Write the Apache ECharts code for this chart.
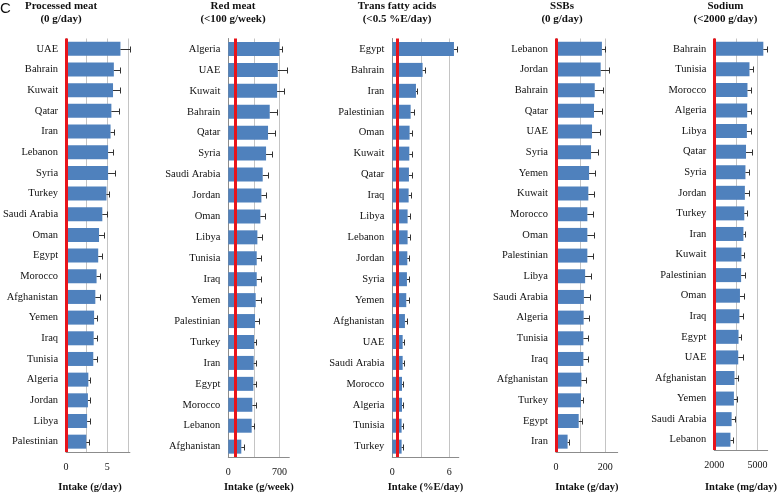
<!DOCTYPE html>
<html><head><meta charset="utf-8">
<script src="https://cdn.jsdelivr.net/npm/echarts@6/dist/echarts.min.js"></script>
<style>html,body{margin:0;padding:0;background:#fff}#c{width:780px;height:498px}</style>
</head><body><div id="c"></div>
<script>
// ---- Processed meat (g/day)
const pmCategories = ['UAE','Bahrain','Kuwait','Qatar','Iran','Lebanon','Syria','Turkey','Saudi Arabia','Oman','Egypt','Morocco','Afghanistan','Yemen','Iraq','Tunisia','Algeria','Jordan','Libya','Palestinian'];
const pmValues = [6.6,5.8,5.7,5.5,5.4,5.1,5.1,4.9,4.4,4.0,3.9,3.7,3.55,3.4,3.35,3.3,2.7,2.65,2.55,2.45];
const pmErrors = [1.2,0.8,0.85,0.9,0.4,0.55,0.8,0.3,0.55,0.65,0.45,0.43,0.6,0.4,0.45,0.4,0.25,0.3,0.35,0.3];
const pmTicks = [0,5];
// ---- Red meat (g/week)
const rmCategories = ['Algeria','UAE','Kuwait','Bahrain','Qatar','Syria','Saudi Arabia','Jordan','Oman','Libya','Tunisia','Iraq','Yemen','Palestinian','Turkey','Iran','Egypt','Morocco','Lebanon','Afghanistan'];
const rmValues = [700,677,668,567,544,517,471,453,439,398,389,389,375,366,352,348,343,329,320,178];
const rmErrors = [40,120,100,100,96,78,69,60,69,60,55,55,69,55,23,27,32,50,27,32];
const rmTicks = [0,700];
// ---- Trans fatty acids (%E/day)
const tfCategories = ['Egypt','Bahrain','Iran','Palestinian','Oman','Kuwait','Qatar','Iraq','Libya','Lebanon','Jordan','Syria','Yemen','Afghanistan','UAE','Saudi Arabia','Morocco','Algeria','Tunisia','Turkey'];
const tfValues = [6.49,3.19,2.49,1.93,1.82,1.79,1.75,1.72,1.61,1.61,1.58,1.54,1.47,1.33,1.09,1.09,1.02,1.02,0.98,0.98];
const tfErrors = [0.28,0.28,0.14,0.32,0.28,0.28,0.32,0.28,0.25,0.21,0.21,0.25,0.32,0.25,0.1,0.1,0.1,0.1,0.1,0.1];
const tfTicks = [0,6];
// ---- SSBs (g/day)
const ssCategories = ['Lebanon','Jordan','Bahrain','Qatar','UAE','Syria','Yemen','Kuwait','Morocco','Oman','Palestinian','Libya','Saudi Arabia','Algeria','Tunisia','Iraq','Afghanistan','Turkey','Egypt','Iran'];
const ssValues = [186,181,157,154,146,142,134,131,127,127,127,118,113,112,111,111,103,101,92,47];
const ssErrors = [12,35,32,32,32,27,23,24,23,26,22,23,23,22,18,18,18,9,15,5];
const ssTicks = [0,200];
// ---- Sodium (mg/day)
const naCategories = ['Bahrain','Tunisia','Morocco','Algeria','Libya','Qatar','Syria','Jordan','Turkey','Iran','Kuwait','Palestinian','Oman','Iraq','Egypt','UAE','Afghanistan','Yemen','Saudi Arabia','Lebanon'];
const naValues = [5400,4440,4300,4280,4260,4200,4160,4120,4080,4020,3880,3860,3780,3740,3680,3660,3400,3360,3200,3120];
const naErrors = [260,260,240,260,280,380,260,300,160,140,160,240,260,240,200,320,260,220,220,160];
const naTicks = [2000,5000];

const titles1 = ['Processed meat','Red meat','Trans fatty acids','SSBs','Sodium'];
const titles2 = ['(0 g/day)','(<100 g/week)','(<0.5 %E/day)','(0 g/day)','(<2000 g/day)'];
const axisTitles = ['Intake (g/day)','Intake (g/week)','Intake (%E/day)','Intake (g/day)','Intake (mg/day)'];
const thresholds = [0,100,0.5,0,2000];

const panels = [
  {cats:pmCategories, vals:pmValues, errs:pmErrors, ticks:pmTicks, min:0, max:7.75, interval:2.5, left:64.3, width:65.6, titleX:61, nameGap:30, namePad:[0,16,0,0]},
  {cats:rmCategories, vals:rmValues, errs:rmErrors, ticks:rmTicks, min:0, max:835, interval:350, left:228.3, width:61, titleX:233, nameGap:24, namePad:[0,0,0,0]},
  {cats:tfCategories, vals:tfValues, errs:tfErrors, ticks:tfTicks, min:0, max:7, interval:3, left:392.3, width:66.5, titleX:397, nameGap:24, namePad:[0,0,0,0]},
  {cats:ssCategories, vals:ssValues, errs:ssErrors, ticks:ssTicks, min:0, max:250, interval:100, left:556, width:61.7, titleX:562, nameGap:30, namePad:[0,0,0,0]},
  {cats:naCategories, vals:naValues, errs:naErrors, ticks:naTicks, min:2000, max:5700, interval:1500, left:714.3, width:61.7, titleX:725.5, nameGap:32, namePad:[0,0,0,0]}
];

const SERIF = '"Liberation Serif", "Times New Roman", serif';
const grids=[], xAxes=[], yAxes=[], series=[], graphics=[];

function errRender(params, api){
  const v = api.value(0), idx = api.value(1), e = api.value(2);
  const a = api.coord([v, idx]), b = api.coord([v + e, idx]);
  const y = Math.round(a[1]) + 0.5, xb = Math.round(b[0]) + 0.5;
  return {type:'group', children:[
    {type:'line', shape:{x1:a[0], y1:y, x2:xb, y2:y}, style:{stroke:'#333', lineWidth:1}},
    {type:'line', shape:{x1:xb, y1:y-3, x2:xb, y2:y+3}, style:{stroke:'#333', lineWidth:1}}
  ]};
}

panels.forEach((p, i) => {
  grids.push({left:p.left, width:p.width, top:38.5, height:421, containLabel:false});
  xAxes.push({
    type:'value', gridIndex:i, min:p.min, max:p.max, interval:p.interval,
    axisLine:{show:true, lineStyle:{color:'#8c8c8c', width:1}},
    axisTick:{show:false},
    splitLine:{show:true, showMinLine:false, showMaxLine:false, lineStyle:{color:'#c4c4c4', width:1}},
    axisLabel:{show:true, margin:10, fontFamily:SERIF, fontSize:10, color:'#111',
      showMaxLabel:false,
      formatter:(v)=> p.ticks.indexOf(v) >= 0 ? String(v) : ''},
    name:axisTitles[i], nameLocation:'middle', nameGap:p.nameGap,
    nameTextStyle:{fontFamily:SERIF, fontWeight:'bold', fontSize:10.5, color:'#111', padding:p.namePad}
  });
  yAxes.push({
    type:'category', gridIndex:i, data:p.cats, inverse:true,
    axisLine:{show:true, lineStyle:{color:'#8c8c8c', width:1}},
    axisTick:{show:false}, splitLine:{show:false},
    axisLabel:{margin:8, fontFamily:SERIF, fontSize:10.5, color:'#111', interval:0}
  });
  series.push({
    type:'bar', xAxisIndex:i, yAxisIndex:i, data:p.vals, barWidth:14,
    itemStyle:{color:'#4f81bd'}, clip:true, z:2, silent:true,
    markLine:{silent:true, symbol:'none', z:10, label:{show:false},
      lineStyle:{color:'#e8141b', width:3, type:'solid'},
      emphasis:{disabled:true},
      data:[{xAxis:thresholds[i]}]}
  });
  series.push({
    type:'custom', xAxisIndex:i, yAxisIndex:i, z:3, silent:true,
    data:p.vals.map((v, k) => [v, k, p.errs[k]]),
    encode:{x:0, y:1}, renderItem:errRender, clip:false
  });
  graphics.push({type:'text', x:p.titleX, y:0, silent:true,
    style:{text:titles1[i] + '\n' + titles2[i], align:'center', verticalAlign:'top',
      fontFamily:SERIF, fontWeight:'bold', fontSize:11, lineHeight:13, fill:'#111'}});
});
graphics.push({type:'text', x:0, y:1, silent:true,
  style:{text:'C', align:'left', verticalAlign:'top', fontFamily:'"Liberation Sans", Arial, sans-serif', fontSize:15, fill:'#111'}});

const chart = echarts.init(document.getElementById('c'), null, {renderer:'canvas', width:780, height:498});
chart.setOption({
  animation:false, backgroundColor:'#fff',
  grid:grids, xAxis:xAxes, yAxis:yAxes, series:series, graphic:graphics
});
</script></body></html>
